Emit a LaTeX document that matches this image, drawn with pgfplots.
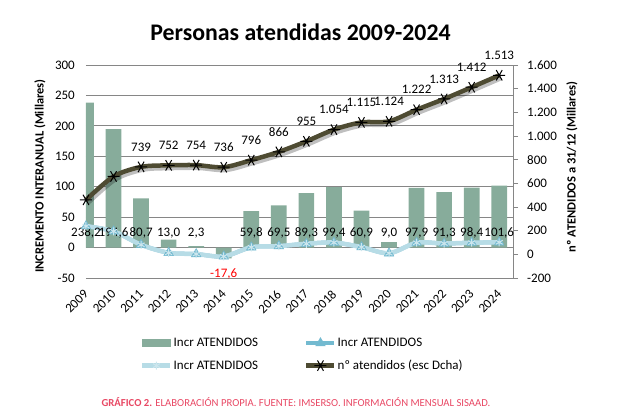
\documentclass[border=0pt]{standalone}
\usepackage{fontspec}
\setmainfont{Carlito}
\usepackage{pgfplots}
\pgfplotsset{compat=1.18}
\definecolor{barcol}{RGB}{135,172,155}
\definecolor{medblue}{RGB}{115,186,208}
\definecolor{lightblue}{RGB}{183,220,230}
\definecolor{darkline}{RGB}{78,75,50}
\definecolor{gridgray}{RGB}{134,134,134}
\definecolor{capred}{RGB}{232,72,100}
\pgfplotstableread{
x incr
0 238.2
1 194.6
2 80.7
3 13.0
4 2.3
5 -17.6
6 59.8
7 69.5
8 89.3
9 99.4
10 60.9
11 9.0
12 97.9
13 91.3
14 98.4
15 101.6
}\incrtable
\pgfplotstableread{
x at
0 460
1 658
2 739
3 752
4 754
5 736
6 796
7 866
8 955
9 1054
10 1115
11 1124
12 1222
13 1313
14 1412
15 1513
}\attable
\pgfplotstableread{
x at label
2 739 739
3 752 752
4 754 754
5 736 736
6 796 796
7 866 866
8 955 955
9 1054 1.054
10 1115 1.115
11 1124 1.124
12 1222 1.222
13 1313 1.313
14 1412 1.412
15 1513 1.513
}\atlabels
\begin{document}
\begin{tikzpicture}[font=\fontsize{13}{15}\selectfont]
\useasboundingbox (-86pt,-141pt) rectangle (532pt,278pt);
\begin{axis}[
  at={(0pt,0pt)}, anchor=south west, scale only axis,
  width=427pt, height=213pt,
  xmin=0, xmax=15.5, ymin=-50, ymax=300,
  ytick={-50,0,50,100,150,200,250,300},
  xtick={0,...,15},
  xticklabels={2009,2010,2011,2012,2013,2014,2015,2016,2017,2018,2019,2020,2021,2022,2023,2024},
  xticklabel style={xshift=-3pt, yshift=-9.5pt, rotate=45, anchor=north east, inner sep=1pt},
  yticklabel style={inner sep=1pt, xshift=-10pt},
  axis line style={draw=none},
  major tick style={draw=none},
  ymajorgrids, grid style={gridgray, line width=0.8pt},
  /pgf/number format/assume math mode=true,
  ticklabel style={font=\fontsize{13}{15}\selectfont},
]
\addplot[ybar, bar width=15.7pt, fill=barcol, draw=none] table[x=x, y=incr] {\incrtable};
\end{axis}
\begin{axis}[
  at={(0pt,0pt)}, anchor=south west, scale only axis,
  width=427pt, height=213pt, clip=false,
  xmin=0, xmax=15.5, ymin=-200, ymax=1600,
  ytick={-200,0,200,...,1600},
  axis x line=none, axis y line*=right,
  y axis line style={gridgray, line width=0.8pt},
  ytick style={gridgray, line width=0.8pt},
  tick align=outside, major tick length=5pt,
  yticklabel style={inner sep=1pt, xshift=8pt},
  /pgf/number format/.cd, use comma, 1000 sep={.}, assume math mode=true,
  /pgfplots/.cd,
  ticklabel style={font=\fontsize{13}{15}\selectfont},
  legend columns=2,
  legend style={at={(0.1265,-0.277)}, anchor=north west, draw=none, fill=none,
    inner sep=0pt, row sep=10pt, font=\fontsize{13}{15}\selectfont,
    nodes={inner sep=1pt},
    /tikz/column 2/.style={column sep=45pt}},
  legend cell align=left,
  legend image code/.code={\draw[mark repeat=2,mark phase=2,#1] plot coordinates {(0pt,0pt)(14pt,0pt)(28pt,0pt)};},
]
\addlegendimage{legend image code/.code={\fill[barcol] (0pt,-3.5pt) rectangle (28pt,3.5pt);}}
\addlegendentry{Incr ATENDIDOS}
\addplot[medblue, line width=4pt, smooth, mark=triangle*, mark size=5.5pt, mark options={fill=medblue, draw=medblue, line width=0.5pt}] table[x=x, y=incr] {\incrtable};
\addlegendentry{Incr ATENDIDOS}
\addplot[lightblue, line width=4.5pt, smooth, mark=asterisk, mark size=4pt, mark options={draw=lightblue!70!white, line width=1pt}] table[x=x, y=incr] {\incrtable};
\addlegendentry{Incr ATENDIDOS}
\addplot[black, opacity=0.25, line width=5pt, smooth, forget plot, shift={(2pt,-2.5pt)}] table[x=x, y=at] {\attable};
\addplot[darkline, line width=4.5pt, smooth, mark=asterisk, mark size=6pt, mark options={draw=black, line width=1pt, rotate=90}] table[x=x, y=at] {\attable};
\addlegendentry{nº atendidos (esc Dcha)}
\addplot[draw=none, forget plot, nodes near coords, point meta=explicit symbolic,
  every node near coord/.append style={anchor=center, yshift=20pt, font=\fontsize{13}{15}\selectfont, black}]
  table[x=x, y=at, meta=label] {\atlabels};
\node[font=\fontsize{13}{15}\selectfont] at (axis cs:0,180) {238,2};
\node[font=\fontsize{13}{15}\selectfont] at (axis cs:1,180) {194,6};
\node[font=\fontsize{13}{15}\selectfont] at (axis cs:2,180) {80,7};
\node[font=\fontsize{13}{15}\selectfont] at (axis cs:3,180) {13,0};
\node[font=\fontsize{13}{15}\selectfont] at (axis cs:4,180) {2,3};
\node[font=\fontsize{13}{15}\selectfont, red] at (axis cs:5,-166) {-17,6};
\node[font=\fontsize{13}{15}\selectfont] at (axis cs:6,180) {59,8};
\node[font=\fontsize{13}{15}\selectfont] at (axis cs:7,180) {69,5};
\node[font=\fontsize{13}{15}\selectfont] at (axis cs:8,180) {89,3};
\node[font=\fontsize{13}{15}\selectfont] at (axis cs:9,180) {99,4};
\node[font=\fontsize{13}{15}\selectfont] at (axis cs:10,180) {60,9};
\node[font=\fontsize{13}{15}\selectfont] at (axis cs:11,180) {9,0};
\node[font=\fontsize{13}{15}\selectfont] at (axis cs:12,180) {97,9};
\node[font=\fontsize{13}{15}\selectfont] at (axis cs:13,180) {91,3};
\node[font=\fontsize{13}{15}\selectfont] at (axis cs:14,180) {98,4};
\node[font=\fontsize{13}{15}\selectfont] at (axis cs:15,180) {101,6};
\end{axis}
\node[anchor=base, font=\fontsize{23.8}{28}\selectfont\bfseries] at (214.5pt,237.3pt) {Personas atendidas 2009-2024};
\node[rotate=90, font=\fontsize{12.5}{15}\selectfont\bfseries] at (-46pt,102pt) {INCREMENTO INTERANUAL (Millares)};
\node[rotate=90, font=\fontsize{12.5}{15}\selectfont\bfseries] at (486pt,111pt) {nº ATENDIDOS a 31/12 (Millares)};
\node[anchor=base, font=\fontsize{10.7}{13}\selectfont, text=capred] at (210pt,-128.7pt) {\textbf{GRÁFICO 2.} ELABORACIÓN PROPIA. FUENTE: IMSERSO. INFORMACIÓN MENSUAL SISAAD.};
\end{tikzpicture}
\end{document}
